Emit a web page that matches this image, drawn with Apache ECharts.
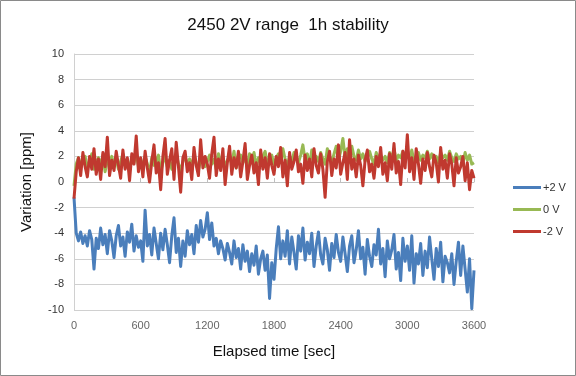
<!DOCTYPE html>
<html><head><meta charset="utf-8">
<script src="https://cdn.jsdelivr.net/npm/echarts@6/dist/echarts.min.js"></script>
<style>html,body{margin:0;padding:0;background:#fff}#c{width:576px;height:376px}</style>
</head><body><div id="c"></div>
<script>
const title = "2450 2V range  1h stability";
const seriesNames = ["+2 V", "0 V", "-2 V"];
const step = 20; // seconds between samples
const plus2 = [
-1.2,-4.0,-4.6,-3.9,-4.8,-4.2,-5.0,-3.8,-4.5,-6.8,
-4.4,-5.2,-3.6,-4.9,-4.1,-5.6,-3.8,-4.6,-5.9,-4.2,
-3.4,-5.0,-4.3,-5.8,-3.9,-4.7,-3.3,-5.4,-4.2,-5.1,
-4.6,-6.2,-2.2,-5.0,-4.1,-5.7,-3.6,-4.8,-6.0,-4.0,
-5.3,-3.7,-4.9,-6.3,-4.2,-2.8,-5.5,-4.4,-6.6,-4.6,
-5.8,-3.8,-4.9,-4.1,-5.6,-3.4,-4.7,-3.0,-4.3,-3.7,
-2.4,-4.5,-3.2,-5.0,-4.4,-5.6,-4.6,-5.2,-6.1,-4.8,
-5.5,-6.4,-4.6,-5.9,-5.2,-6.8,-4.9,-6.2,-5.4,-7.0,
-5.6,-6.5,-5.0,-7.2,-6.0,-5.4,-6.9,-5.7,-9.1,-6.3,
-7.6,-5.2,-3.5,-6.0,-4.6,-5.8,-3.8,-6.4,-4.3,-5.5,
-6.8,-4.2,-5.4,-3.6,-6.1,-4.7,-5.6,-4.0,-6.6,-5.0,
-3.9,-5.7,-6.4,-4.4,-5.3,-6.9,-4.8,-5.9,-4.1,-5.5,
-6.2,-4.3,-5.6,-7.0,-5.0,-4.2,-6.3,-5.3,-3.8,-6.0,
-5.1,-7.2,-4.5,-5.8,-6.6,-4.9,-5.7,-3.7,-6.4,-5.2,
-7.4,-4.6,-6.0,-5.3,-4.1,-6.8,-5.5,-7.7,-4.4,-6.2,
-5.0,-6.9,-4.2,-7.9,-5.6,-6.4,-4.8,-7.3,-5.4,-6.7,
-4.3,-6.0,-7.6,-5.2,-6.6,-4.7,-7.8,-5.8,-6.3,-7.1,
-5.6,-8.0,-6.2,-4.7,-7.3,-5.0,-6.8,-8.6,-6.0,-9.9,
-6.9
];
const zero = [
-0.3,1.4,1.9,1.2,1.8,2.0,1.1,1.6,2.2,1.0,
1.5,1.9,1.3,2.1,0.8,1.7,1.4,2.0,1.2,1.8,
1.0,1.6,2.2,1.3,1.7,0.9,1.9,1.5,2.3,1.2,
1.8,1.1,2.0,1.4,0.7,1.9,1.3,1.6,2.1,0.8,
1.5,2.0,1.2,1.7,1.0,1.8,2.2,1.4,0.9,1.6,
2.0,1.3,1.8,1.1,2.1,1.5,0.9,1.7,1.9,1.2,
1.6,2.1,1.4,1.8,1.0,2.2,1.5,1.9,1.2,1.7,
2.0,1.4,2.4,1.1,1.8,2.1,1.5,1.9,1.3,2.2,
1.7,2.3,1.2,1.9,1.5,2.0,2.4,1.4,1.8,2.1,
1.3,1.9,2.2,1.5,2.6,1.8,1.2,2.0,1.6,2.3,
1.9,1.5,2.1,2.9,1.7,2.2,1.3,2.5,1.8,2.0,
1.6,2.3,1.8,1.4,2.6,2.0,1.5,2.2,2.8,1.7,
2.4,3.4,1.9,2.6,1.5,2.8,2.0,1.7,2.5,1.8,
2.2,1.6,2.0,2.4,1.8,1.4,2.3,1.9,2.1,1.7,
2.0,1.5,2.3,1.8,2.6,1.6,2.1,1.9,2.4,1.7,
2.2,1.8,2.5,1.6,2.0,2.3,1.7,2.1,1.9,2.4,
1.8,2.2,1.6,2.0,1.5,2.3,1.9,2.1,1.7,2.4,
1.9,1.6,2.2,1.8,2.0,1.5,2.3,1.7,2.1,1.4,
1.5
];
const minus2 = [
-1.3,0.8,1.9,0.5,2.3,1.2,0.4,2.0,1.0,2.6,
0.6,1.8,0.2,2.3,1.2,3.5,0.5,1.7,0.9,2.4,
1.3,0.3,2.5,1.0,1.9,0.1,2.2,1.4,3.6,0.8,
1.9,0.4,2.4,1.1,0.0,1.6,2.9,0.7,1.5,-0.6,
2.0,3.4,0.6,1.7,2.6,0.2,3.1,1.2,-0.8,1.9,
2.4,0.8,1.5,0.2,2.7,1.3,0.5,3.3,1.1,2.0,
1.4,0.3,2.2,3.5,0.5,1.8,0.9,2.6,-0.2,1.5,
2.8,0.6,1.9,1.1,2.4,0.4,1.6,3.0,0.2,1.3,
2.1,0.7,1.5,-0.2,2.5,1.0,1.9,0.3,2.2,1.3,
0.6,2.0,1.2,2.7,0.4,1.7,-0.3,2.3,1.0,1.6,
2.5,0.8,1.4,-0.1,2.1,0.9,1.8,0.4,2.6,1.3,
0.7,2.2,1.0,-1.2,1.6,2.4,0.5,1.8,1.1,2.9,
0.6,1.5,2.3,0.2,3.3,1.0,1.8,0.4,2.1,1.3,
-0.3,1.7,2.5,0.8,1.4,0.3,2.0,1.2,2.7,0.6,
1.5,0.1,2.2,1.0,3.0,0.7,1.6,-0.2,2.4,1.1,
3.7,0.8,1.9,0.2,2.6,1.4,-0.1,1.8,0.9,2.3,
1.2,0.4,2.1,1.5,0.0,2.7,1.0,1.7,0.3,2.2,
1.4,-0.3,1.9,0.7,1.2,2.0,0.1,1.5,-0.6,0.9,
0.3
];
const colors = ["#4a7ebb", "#98b954", "#c0392f"];
const toPairs = arr => arr.map((v, i) => [i * step, v]);
const allData = [plus2, zero, minus2];

const chart = echarts.init(document.getElementById('c'), null, {renderer: 'canvas'});
chart.setOption({
  animation: false,
  backgroundColor: '#fff',
  graphic: [{type: 'rect', shape: {x: 0.5, y: 0.5, width: 575, height: 375}, style: {fill: 'none', stroke: '#8a8a8a', lineWidth: 1}, silent: true}],
  title: {text: title, left: 'center', top: 12, textStyle: {fontFamily: 'Liberation Sans', fontSize: 17, fontWeight: 'normal', color: '#111'}},
  grid: {left: 74, top: 54, width: 400, height: 256},
  legend: {
    orient: 'vertical', left: 508, top: 177, itemGap: 11, itemWidth: 28, itemHeight: 3, icon: 'rect',
    textStyle: {fontFamily: 'Liberation Sans', fontSize: 11, color: '#333', padding: [0, 0, 0, -3]},
    data: seriesNames
  },
  xAxis: {
    type: 'value', min: 0, max: 3600, interval: 600,
    name: 'Elapsed time [sec]', nameLocation: 'middle', nameGap: 34,
    nameTextStyle: {fontFamily: 'Liberation Sans', fontSize: 15, color: '#111'},
    axisLine: {show: true, lineStyle: {color: '#bfbfbf'}},
    axisTick: {show: true, inside: true, length: 4, lineStyle: {color: '#bfbfbf'}},
    axisLabel: {fontFamily: 'Liberation Sans', fontSize: 11, color: '#666', margin: 10, formatter: v => String(v)},
    splitLine: {show: false}
  },
  yAxis: {
    type: 'value', min: -10, max: 10, interval: 2,
    name: 'Variation [ppm]', nameLocation: 'middle', nameGap: 40, nameRotate: 90,
    nameTextStyle: {fontFamily: 'Liberation Sans', fontSize: 15, color: '#111'},
    axisLine: {show: true, lineStyle: {color: '#d0d0d0'}},
    axisTick: {show: false},
    axisLabel: {fontFamily: 'Liberation Sans', fontSize: 11, color: '#333', margin: 10},
    splitLine: {show: true, lineStyle: {color: '#d0d0d0'}}
  },
  series: seriesNames.map((n, k) => ({
    name: n, type: 'line', data: toPairs(allData[k]), showSymbol: false, symbol: 'none',
    lineStyle: {width: 3, color: colors[k], join: 'round'}, itemStyle: {color: colors[k]},
    z: k + 2
  }))
});
</script></body></html>
